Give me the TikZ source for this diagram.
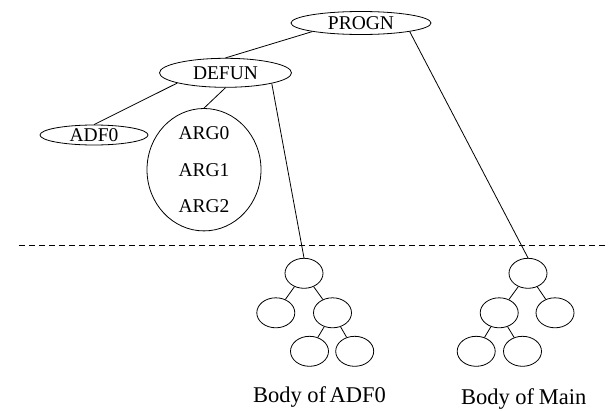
\documentclass[tikz,border=0pt]{standalone}
\usepackage{fontspec}
\setmainfont{Liberation Serif}
\usetikzlibrary{shapes.geometric}
\begin{document}
\begin{tikzpicture}[x=1pt,y=-1pt,
  every node/.style={font=\fontsize{19.5}{36.7}\selectfont, text=black},
  oval/.style={draw, ellipse, line width=0.8pt, inner sep=0pt},
  leaf/.style={oval, minimum width=38pt, minimum height=30pt},
  caption/.style={anchor=base, inner sep=0pt, font=\fontsize{22.5}{27}\selectfont},
  link/.style={line width=0.8pt},
  divider/.style={line width=0.8pt, dash pattern=on 6pt off 4pt}]
\useasboundingbox (0,0) rectangle (609,410);

% top-level program structure
\node[oval, minimum width=140pt, minimum height=23pt] (progn) at (361,23) {PROGN};
\node[oval, minimum width=132pt, minimum height=29pt] (defun) at (225.5,72.8) {DEFUN};
\node[oval, minimum width=108pt, minimum height=20pt] (adf) at (94,135) {ADF0};
\node[oval, minimum width=114pt, minimum height=117pt, align=center] (args) at (204,169.7) {ARG0\\ARG1\\ARG2};

% body of ADF0
\node[leaf] (a0) at (304,273.3) {};
\node[leaf] (a1) at (275.8,312.8) {};
\node[leaf] (a2) at (332.5,312.8) {};
\node[leaf] (a3) at (309.5,351.3) {};
\node[leaf] (a4) at (354.7,351.3) {};

% body of main
\node[leaf] (m0) at (528,273.3) {};
\node[leaf] (m1) at (499.2,312.8) {};
\node[leaf] (m2) at (555,312.8) {};
\node[leaf] (m3) at (476.2,351.3) {};
\node[leaf] (m4) at (522.5,351.3) {};

\node[caption] (adflabel) at (319.5,402.3) {Body of\hspace{-2pt} ADF0};
\node[caption] (mainlabel) at (523.7,404.8) {Body of\hspace{-1pt} Main};

% separator
\coordinate (dl) at (19,245.7);
\coordinate (dr) at (607,245.7);
\draw[divider] (dl) -- (dr);

% connectors
\draw[link] (progn.190) -- (defun.north);
\draw[link] (progn.-10) -- (m0.north);
\draw[link] (defun.192) -- (adf.north);
\draw[link] (defun.south) -- (args.north);
\draw[link] (defun.-13) -- (a0.north);

\draw[link] (a0) -- (a1);
\draw[link] (a0) -- (a2);
\draw[link] (a2) -- (a3);
\draw[link] (a2) -- (a4);

\draw[link] (m0) -- (m1);
\draw[link] (m0) -- (m2);
\draw[link] (m1) -- (m3);
\draw[link] (m1) -- (m4);
\end{tikzpicture}
\end{document}
